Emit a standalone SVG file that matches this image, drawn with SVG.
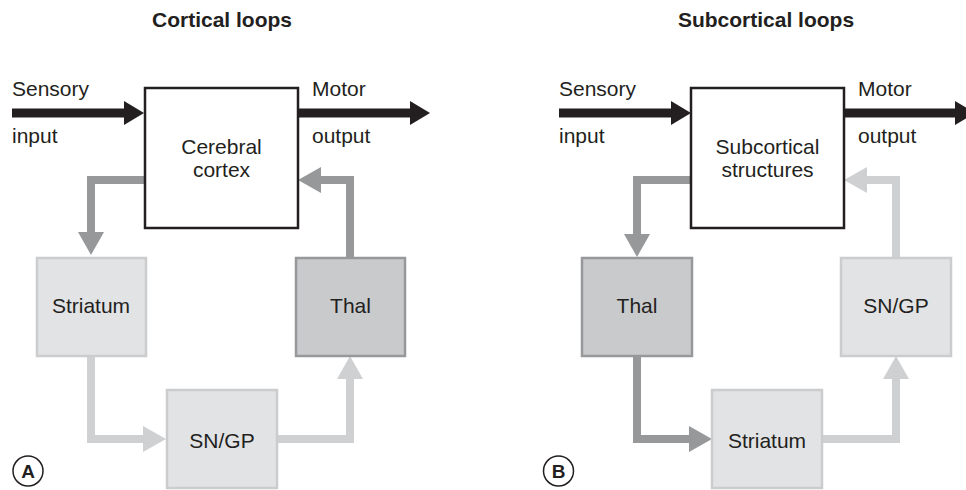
<svg xmlns="http://www.w3.org/2000/svg" width="966" height="490" viewBox="0 0 966 490">
<style>
text{font-family:"Liberation Sans",Arial,sans-serif;fill:#231f20;font-size:21px}
.title{font-weight:bold;text-anchor:middle}
.c{text-anchor:middle}
.main{fill:#fff;stroke:#231f20;stroke-width:2.5}
.light{fill:#e2e3e5;stroke:#cbccce;stroke-width:2.5}
.dark{fill:#c9cacc;stroke:#97989a;stroke-width:2.5}
.cd{fill:none;stroke:#97989a;stroke-width:8;stroke-linejoin:miter}
.cl{fill:none;stroke:#cfd0d2;stroke-width:8;stroke-linejoin:miter}
.cb{fill:none;stroke:#231f20;stroke-width:9}
.lab{fill:none;stroke:#231f20;stroke-width:1.5}
.lt{font-weight:bold;text-anchor:middle;font-size:19px}
</style>
<defs>
<marker id="hd" markerUnits="userSpaceOnUse" markerWidth="23" markerHeight="26" viewBox="0 0 23 26" refX="0" refY="13" orient="auto"><path d="M0,0 L23,13 L0,26 z" fill="#97989a"/></marker>
<marker id="hl" markerUnits="userSpaceOnUse" markerWidth="23" markerHeight="26" viewBox="0 0 23 26" refX="0" refY="13" orient="auto"><path d="M0,0 L23,13 L0,26 z" fill="#cfd0d2"/></marker>
<marker id="hb" markerUnits="userSpaceOnUse" markerWidth="20" markerHeight="24" viewBox="0 0 20 24" refX="0" refY="12" orient="auto"><path d="M0,0 L20,12 L0,24 z" fill="#231f20"/></marker>
</defs>
<text class="title" x="222" y="27">Cortical loops</text>
<text class="title" x="766" y="27">Subcortical loops</text>
<g id="connectors">
<path class="cb" d="M12,113 H124" marker-end="url(#hb)"/>
<path class="cb" d="M298,113 H410" marker-end="url(#hb)"/>
<path class="cd" d="M145,180 H91 V232" marker-end="url(#hd)"/>
<path class="cl" d="M91,356 V439 H143" marker-end="url(#hl)"/>
<path class="cl" d="M277,439 H350 V379" marker-end="url(#hl)"/>
<path class="cd" d="M350,257 V180 H321" marker-end="url(#hd)"/>
<path class="cb" d="M559,113 H671" marker-end="url(#hb)"/>
<path class="cb" d="M844,113 H955" marker-end="url(#hb)"/>
<path class="cd" d="M692,180 H637 V234" marker-end="url(#hd)"/>
<path class="cd" d="M637,356 V439 H689" marker-end="url(#hd)"/>
<path class="cl" d="M822,439 H896 V379" marker-end="url(#hl)"/>
<path class="cl" d="M896,257 V180 H867" marker-end="url(#hl)"/>
</g>
<text x="12" y="96">Sensory</text>
<text x="12" y="143">input</text>
<text x="312" y="96">Motor</text>
<text x="312" y="143">output</text>
<text x="559" y="96">Sensory</text>
<text x="559" y="143">input</text>
<text x="858" y="96">Motor</text>
<text x="858" y="143">output</text>
<g id="cortex"><rect class="main" x="145" y="88" width="153" height="140"/><text class="c" x="221.5" y="154">Cerebral</text><text class="c" x="221.5" y="177">cortex</text></g>
<g id="striatumA"><rect class="light" x="37" y="258" width="109" height="98"/><text class="c" x="91" y="313">Striatum</text></g>
<g id="thalA"><rect class="dark" x="296" y="258" width="109" height="98"/><text class="c" x="350.5" y="313">Thal</text></g>
<g id="sngpA"><rect class="light" x="167" y="390" width="110" height="98"/><text class="c" x="222" y="448">SN/GP</text></g>
<g id="labelA"><circle class="lab" cx="28" cy="471" r="15"/><text class="lt" x="28" y="478">A</text></g>
<g id="subcortical"><rect class="main" x="691" y="88" width="153" height="140"/><text class="c" x="767.5" y="154">Subcortical</text><text class="c" x="767.5" y="177">structures</text></g>
<g id="thalB"><rect class="dark" x="582" y="258" width="110" height="98"/><text class="c" x="637" y="313">Thal</text></g>
<g id="sngpB"><rect class="light" x="841" y="258" width="110" height="98"/><text class="c" x="896" y="313">SN/GP</text></g>
<g id="striatumB"><rect class="light" x="712" y="390" width="110" height="98"/><text class="c" x="767" y="448">Striatum</text></g>
<g id="labelB"><circle class="lab" cx="558.5" cy="471" r="15"/><text class="lt" x="558.5" y="478">B</text></g>
</svg>
